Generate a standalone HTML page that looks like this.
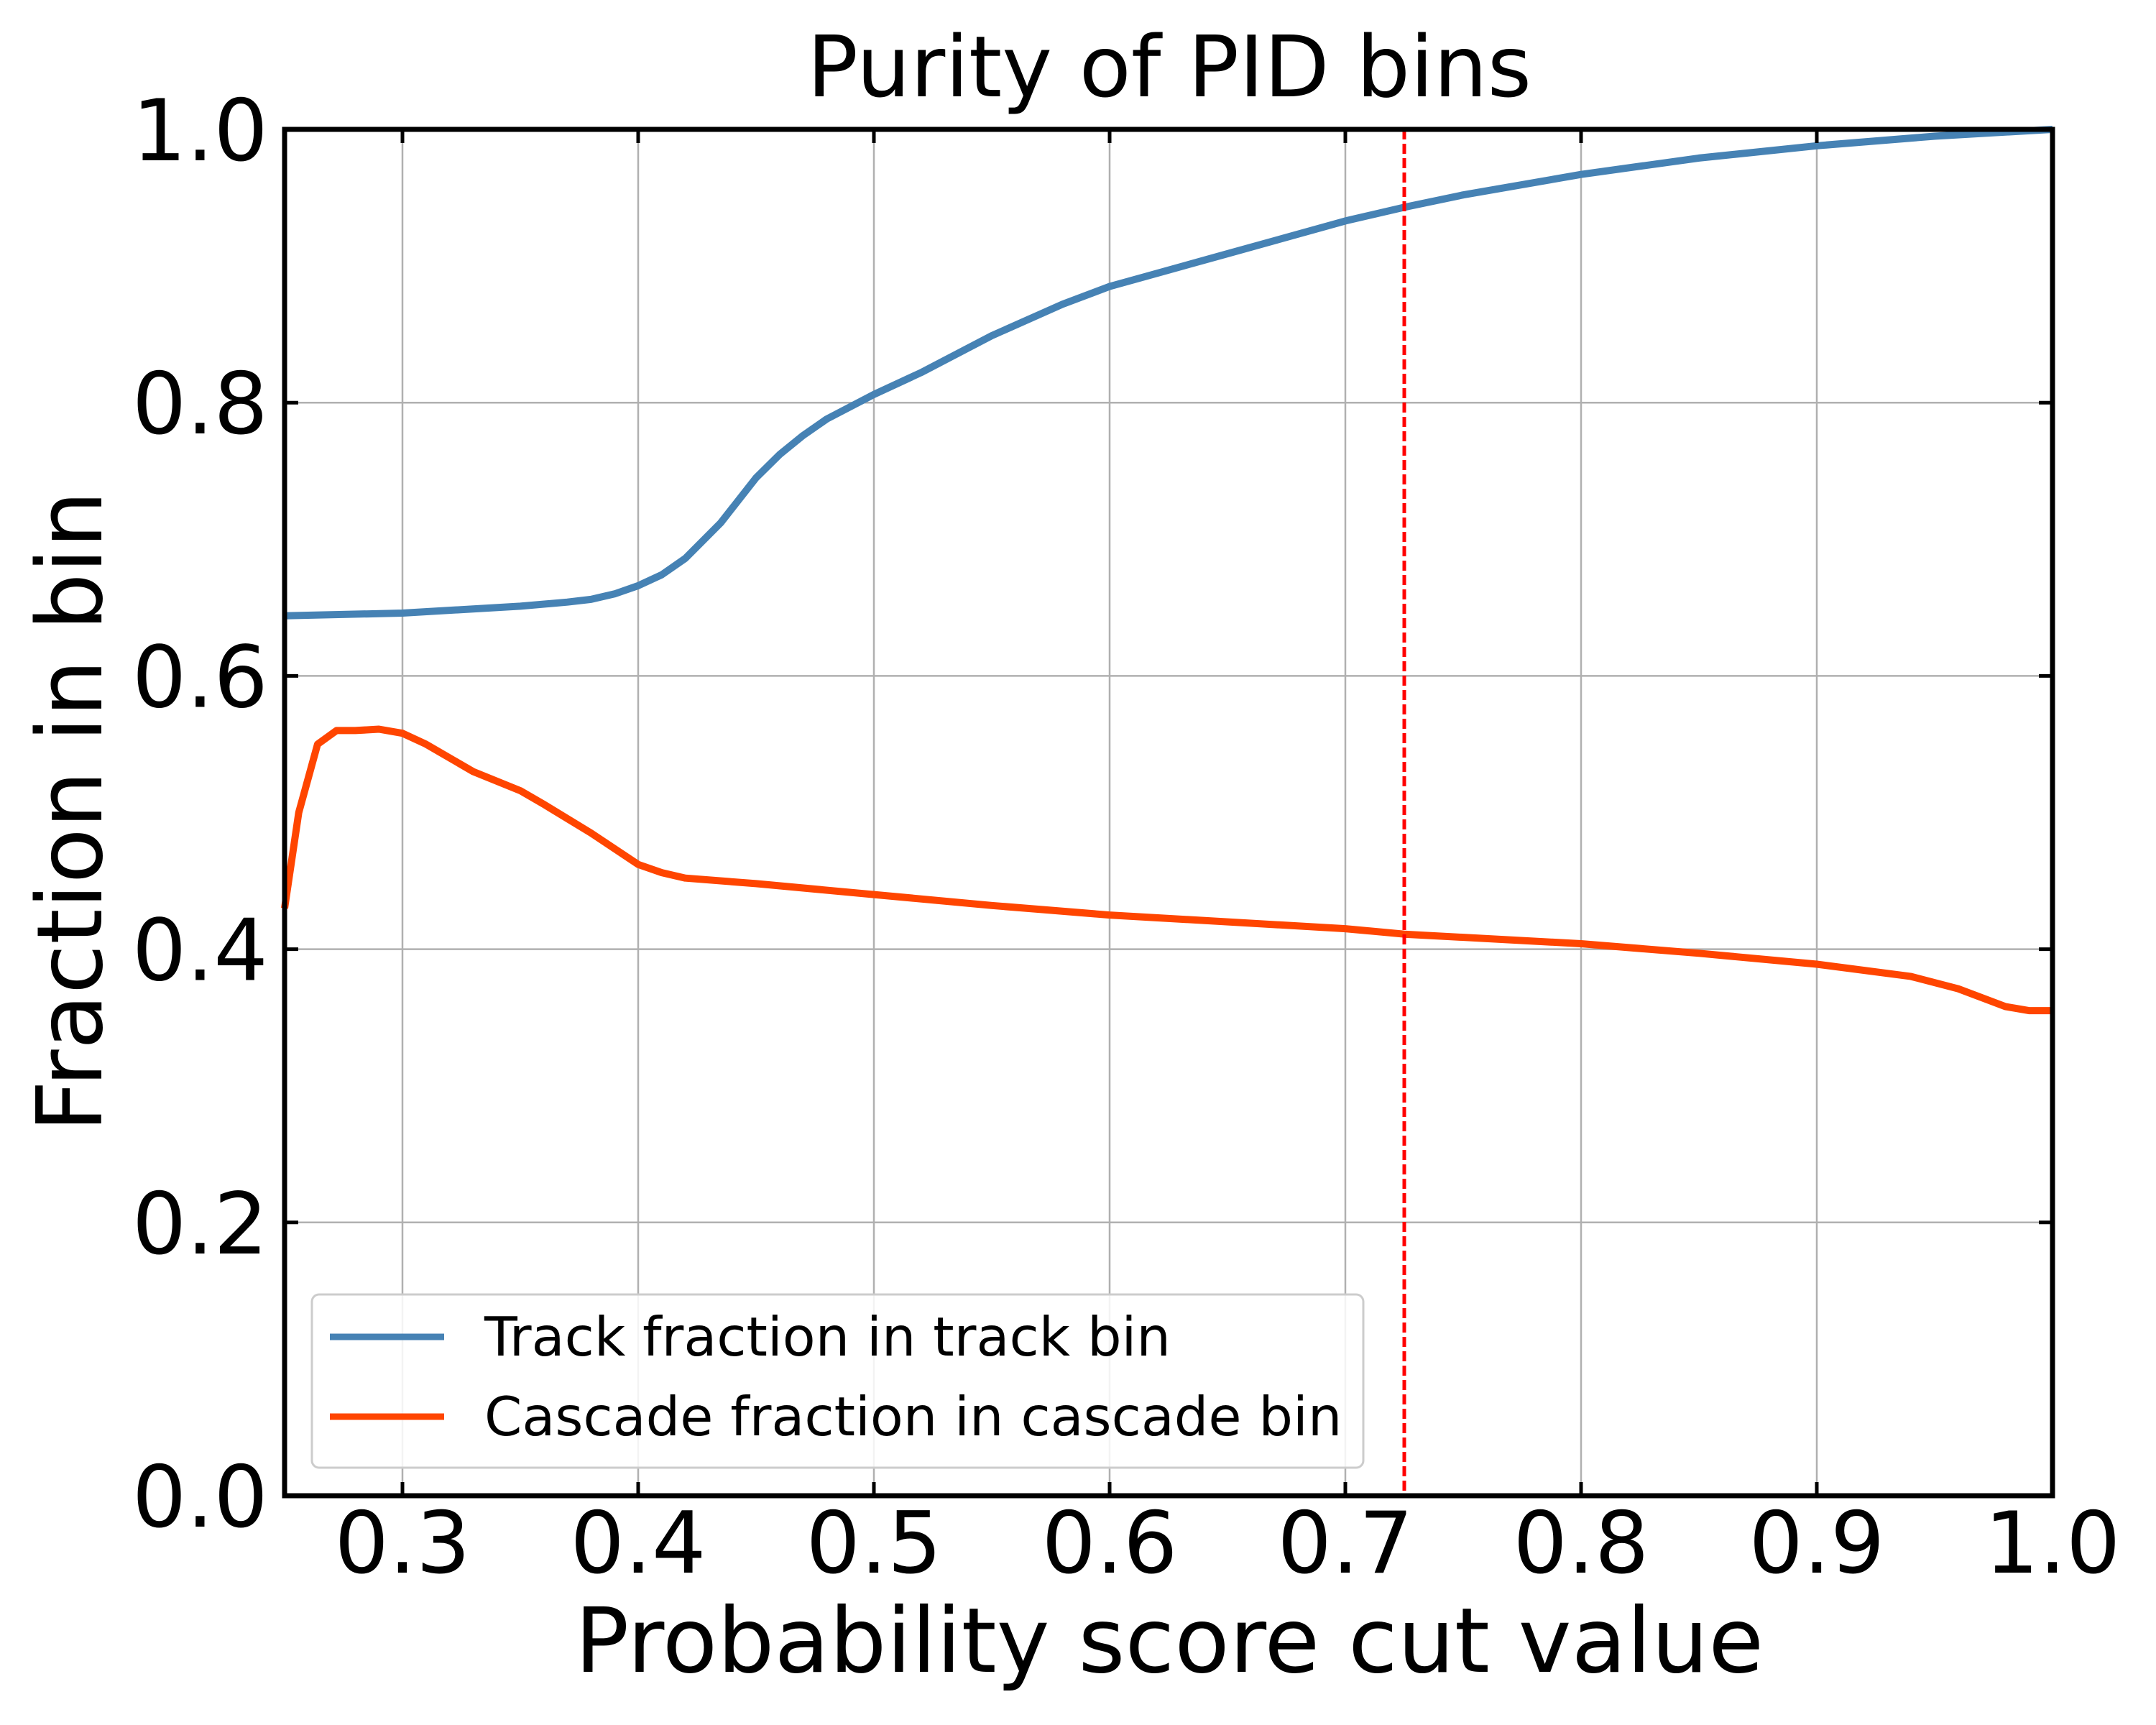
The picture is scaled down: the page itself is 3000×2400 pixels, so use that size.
<!DOCTYPE html>
<html><head><meta charset="utf-8"><style>
html,body{margin:0;padding:0;background:#fff;}
svg{display:block;font-family:"DejaVu Sans","Liberation Sans",sans-serif;}
</style></head><body>
<svg id="chart" width="3000" height="2400" viewBox="0 0 3000 2400" xmlns="http://www.w3.org/2000/svg">
<rect x="0" y="0" width="3000" height="2400" fill="#fff"/>
<g id="grid"></g>
<g id="series"></g>
<g id="axes"></g>
<text x="1627" y="134" font-size="118" text-anchor="middle">Purity of PID bins</text>
<text x="1627" y="2326" font-size="125" text-anchor="middle">Probability score cut value</text>
<text transform="translate(141,1129) rotate(-90)" font-size="126" text-anchor="middle">Fraction in bin</text>
<g>
<rect x="434" y="1801" width="1463" height="241" rx="10" fill="#fff" fill-opacity="0.85" stroke="#cccccc" stroke-width="3"/>
<line x1="459" y1="1860" x2="618" y2="1860" stroke="#4682b4" stroke-width="9"/>
<text x="674" y="1886" font-size="75">Track fraction in track bin</text>
<line x1="459" y1="1971" x2="618" y2="1971" stroke="#ff4500" stroke-width="9"/>
<text x="674" y="1997" font-size="75">Cascade fraction in cascade bin</text>
</g>
</svg>
<script>
const trackX=[0.25,0.3,0.35,0.37,0.38,0.39,0.4,0.41,0.42,0.435,0.45,0.46,0.47,0.48,0.5,0.52,0.55,0.58,0.6,0.65,0.7,0.725,0.75,0.8,0.85,0.9,0.95,1.0];
const trackY=[0.644,0.646,0.651,0.654,0.656,0.660,0.666,0.674,0.686,0.712,0.745,0.762,0.776,0.788,0.806,0.822,0.849,0.872,0.885,0.909,0.933,0.943,0.952,0.967,0.979,0.988,0.995,1.0];
const cascX=[0.25,0.256,0.264,0.272,0.28,0.29,0.3,0.31,0.33,0.35,0.36,0.38,0.4,0.41,0.42,0.45,0.5,0.55,0.6,0.7,0.725,0.8,0.85,0.9,0.94,0.96,0.98,0.99,1.0];
const cascY=[0.43,0.50,0.55,0.56,0.56,0.561,0.558,0.55,0.53,0.516,0.506,0.485,0.462,0.456,0.452,0.448,0.44,0.432,0.425,0.415,0.411,0.404,0.397,0.389,0.38,0.371,0.358,0.355,0.355];
const cutValue=0.725;
const xTicks=[0.3,0.4,0.5,0.6,0.7,0.8,0.9,1.0];
const xTickLabels=["0.3","0.4","0.5","0.6","0.7","0.8","0.9","1.0"];
const yTicks=[0,0.2,0.4,0.6,0.8,1.0];
const yTickLabels=["0.0","0.2","0.4","0.6","0.8","1.0"];

const L=396,R=2856,T=180,B=2081,X0=0.25,X1=1.0,Y0=0,Y1=1;
const NS="http://www.w3.org/2000/svg";
function sx(v){return L+(v-X0)/(X1-X0)*(R-L);}
function sy(v){return B-(v-Y0)/(Y1-Y0)*(B-T);}
function mk(tag,attrs,parent){const e=document.createElementNS(NS,tag);for(const k in attrs)e.setAttribute(k,attrs[k]);parent.appendChild(e);return e;}
const grid=document.getElementById('grid'),series=document.getElementById('series'),axes=document.getElementById('axes');
xTicks.forEach((v,i)=>{
  const g=mk('line',{x1:sx(v),x2:sx(v),y1:T,y2:B,stroke:'#b0b0b0','stroke-width':2.5},grid);
  
  
  [[B,B-19],[T,T+19]].forEach(p=>{const t=mk('line',{x1:sx(v),x2:sx(v),y1:p[0],y2:p[1],stroke:'#000','stroke-width':5},axes);
    
    });
  const lb=mk('text',{x:sx(v),y:2188,'font-size':119,'text-anchor':'middle'},axes);
  lb.textContent=xTickLabels[i];
  
  
});
yTicks.forEach((v,i)=>{
  const g=mk('line',{x1:L,x2:R,y1:sy(v),y2:sy(v),stroke:'#b0b0b0','stroke-width':2.5},grid);
  
  
  [[L,L+19],[R,R-19]].forEach(p=>{const t=mk('line',{x1:p[0],x2:p[1],y1:sy(v),y2:sy(v),stroke:'#000','stroke-width':5},axes);
    
    });
  const lb=mk('text',{x:373,y:sy(v)+43,'font-size':119,'text-anchor':'end'},axes);
  lb.textContent=yTickLabels[i];
  
  
});
function path(xs,ys){return xs.map((x,i)=>(i?'L':'M')+sx(x).toFixed(1)+','+sy(ys[i]).toFixed(1)).join(' ');}
const tp=mk('path',{d:path(trackX,trackY),fill:'none',stroke:'#4682b4','stroke-width':10,'stroke-linejoin':'round'},series);


const cp=mk('path',{d:path(cascX,cascY),fill:'none',stroke:'#ff4500','stroke-width':10,'stroke-linejoin':'round'},series);


const cut=mk('line',{x1:sx(cutValue),x2:sx(cutValue),y1:T,y2:B,stroke:'#ff0000','stroke-width':5,'stroke-dasharray':'14,6'},series);


const fr=mk('rect',{x:L,y:T,width:R-L,height:B-T,fill:'none',stroke:'#000','stroke-width':7},axes);


</script>
</body></html>
